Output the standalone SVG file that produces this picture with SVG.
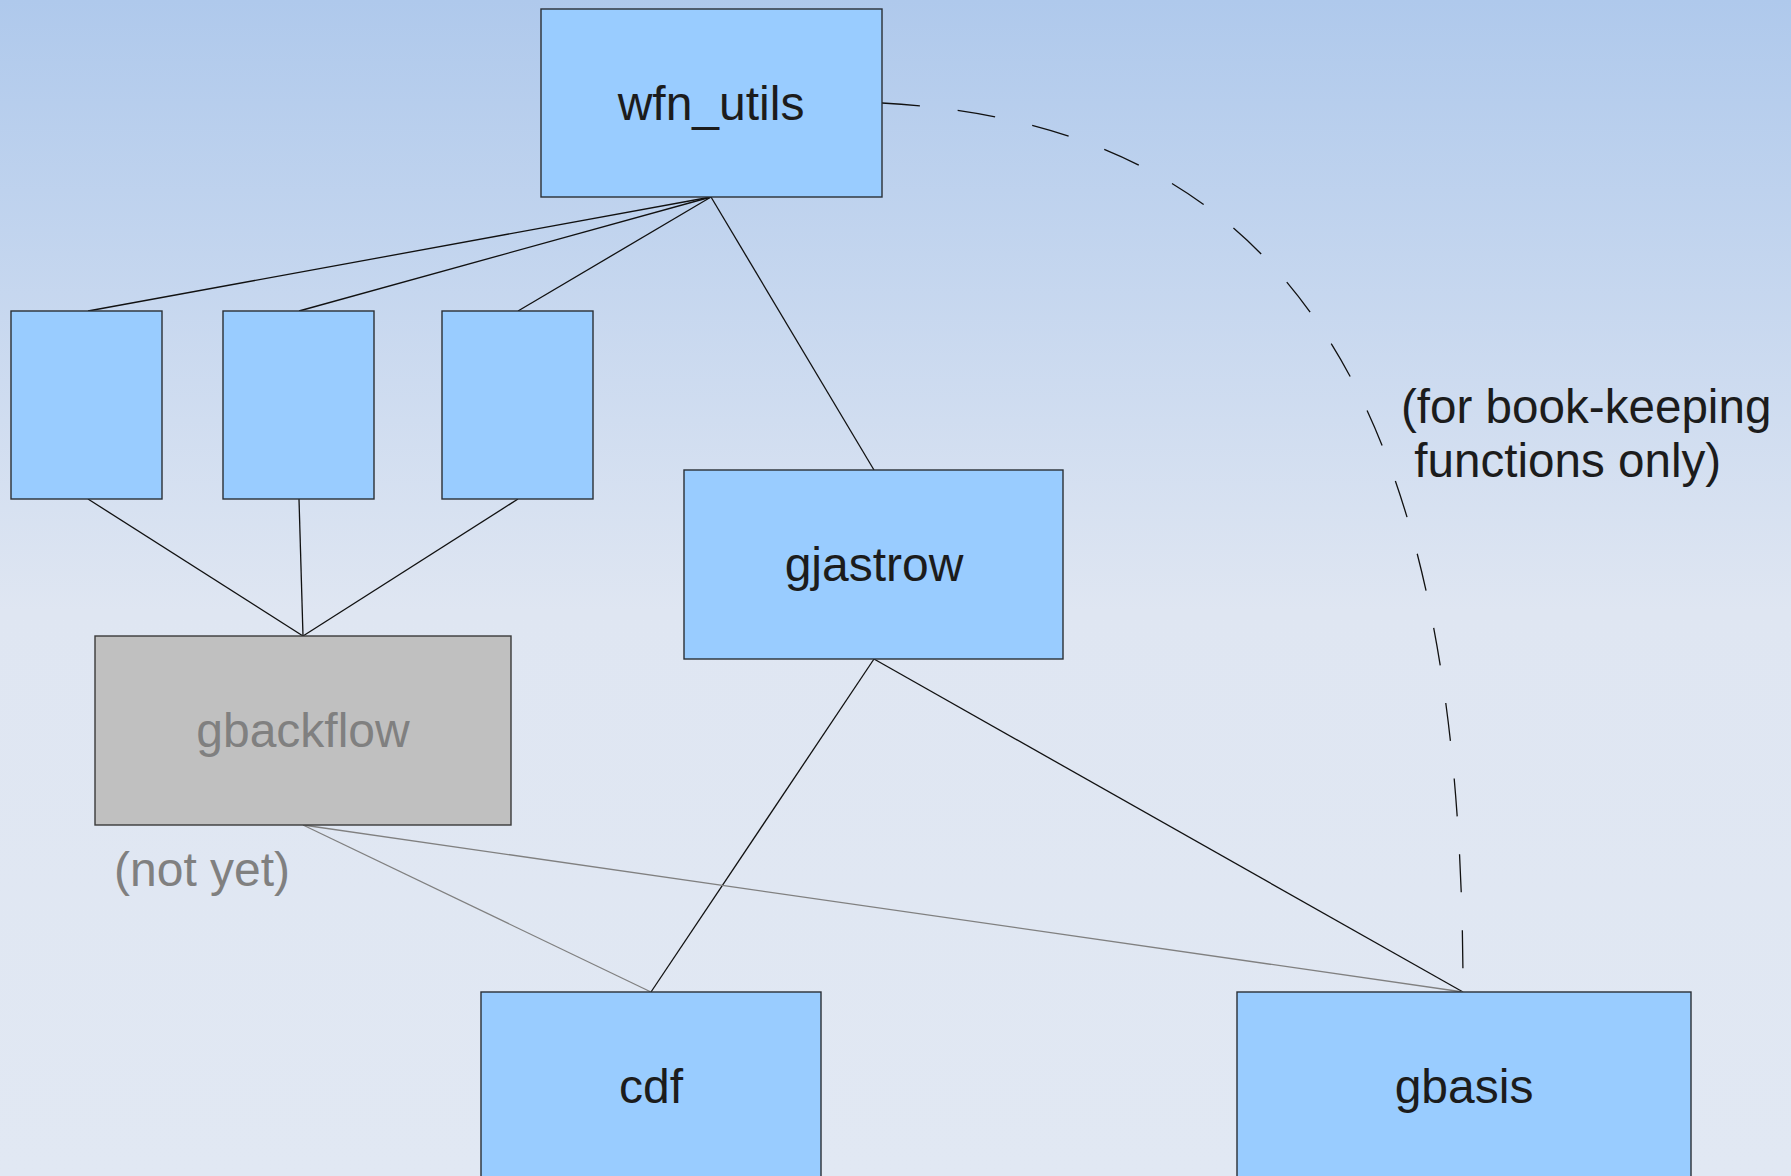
<svg xmlns="http://www.w3.org/2000/svg" width="1791" height="1176" viewBox="0 0 1791 1176">
<defs>
<linearGradient id="bg" x1="0" y1="0" x2="0" y2="1176" gradientUnits="userSpaceOnUse">
<stop offset="0" stop-color="#afc9ec"/>
<stop offset="0.52" stop-color="#dfe6f2"/>
<stop offset="1" stop-color="#e1e8f3"/>
</linearGradient>
</defs>
<style>
.box{fill:#99ccff;stroke:#2a2f36;stroke-width:1.4}
.grey{fill:#c0c0c0;stroke:#3a3a3a;stroke-width:1.4}
.lbl{font-family:"Liberation Sans",Arial,sans-serif;font-size:48px;fill:#1c1c1c;text-anchor:middle}
.glbl{font-family:"Liberation Sans",Arial,sans-serif;font-size:48px;fill:#808080}
.note{font-family:"Liberation Sans",Arial,sans-serif;font-size:47.6px;fill:#1c1c1c}
.ln{stroke:#111;stroke-width:1.3;fill:none}
.gln{stroke:#808080;stroke-width:1.3;fill:none}
.dash{stroke:#111;stroke-width:1.3;fill:none;stroke-dasharray:38 38}
</style>
<rect x="0" y="0" width="1791" height="1176" fill="url(#bg)"/>
<g id="connectors">
<line class="ln" x1="711" y1="197" x2="88" y2="311"/>
<line class="ln" x1="711" y1="197" x2="299" y2="311"/>
<line class="ln" x1="711" y1="197" x2="518" y2="311"/>
<line class="ln" x1="711" y1="197" x2="874" y2="470"/>
<line class="ln" x1="88" y1="499" x2="303" y2="636"/>
<line class="ln" x1="299" y1="499" x2="303" y2="636"/>
<line class="ln" x1="518" y1="499" x2="303" y2="636"/>
<line class="ln" x1="874" y1="659" x2="651" y2="992"/>
<line class="ln" x1="874" y1="659" x2="1463" y2="992"/>
<line class="gln" x1="303" y1="825" x2="651" y2="992"/>
<line class="gln" x1="303" y1="825" x2="1463" y2="992"/>
<path class="dash" d="M882,103 C1295,125 1463,410 1463,992"/>
</g>
<g id="wfn_utils"><rect class="box" x="541" y="9" width="341" height="188"/><text class="lbl" x="711" y="120">wfn_utils</text></g>
<g id="box1"><rect class="box" x="11" y="311" width="151" height="188"/></g>
<g id="box2"><rect class="box" x="223" y="311" width="151" height="188"/></g>
<g id="box3"><rect class="box" x="442" y="311" width="151" height="188"/></g>
<g id="gjastrow"><rect class="box" x="684" y="470" width="379" height="189"/><text class="lbl" x="874" y="581">gjastrow</text></g>
<g id="gbackflow"><rect class="grey" x="95" y="636" width="416" height="189"/><text class="glbl" x="303" y="747" text-anchor="middle">gbackflow</text></g>
<g id="not_yet"><text class="glbl" x="114" y="886">(not yet)</text></g>
<g id="cdf"><rect class="box" x="481" y="992" width="340" height="200"/><text class="lbl" x="651" y="1103">cdf</text></g>
<g id="gbasis"><rect class="box" x="1237" y="992" width="454" height="200"/><text class="lbl" x="1464" y="1103">gbasis</text></g>
<g id="note"><text class="note" x="1401" y="423">(for book-keeping</text><text class="note" x="1401" y="477" xml:space="preserve"> functions only)</text></g>
</svg>
